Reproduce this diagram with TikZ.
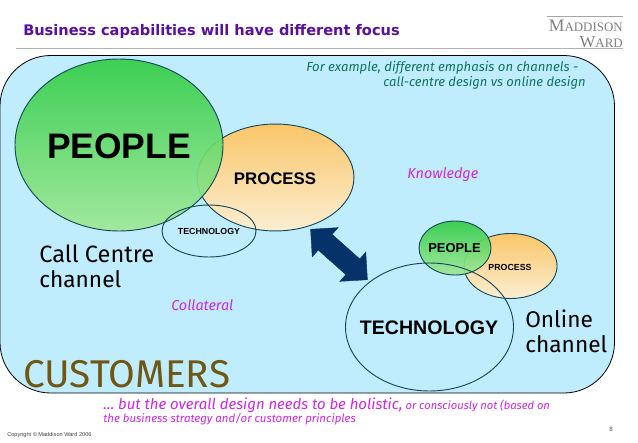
\documentclass[tikz,border=0pt]{standalone}
\usepackage{fontspec}
\setmainfont{Fira Sans}
\newfontfamily\titlefont{DejaVu Sans}
\newfontfamily\arialfont{Liberation Sans}
\newfontfamily\logofont{Liberation Serif}
\usetikzlibrary{shapes.geometric,shapes.arrows}
\definecolor{cpanel}{RGB}{192,237,253}
\definecolor{cedge}{RGB}{22,72,92}
\definecolor{ctitle}{RGB}{90,15,160}
\definecolor{cnote}{RGB}{15,115,95}
\definecolor{cpink}{RGB}{205,40,225}
\definecolor{cbrown}{RGB}{112,88,20}
\definecolor{cnavy}{RGB}{5,50,105}
\definecolor{cgreentop}{RGB}{50,205,70}
\definecolor{cgreenlow}{RGB}{160,232,150}
\definecolor{corangetop}{RGB}{250,198,105}
\definecolor{corangelow}{RGB}{251,238,210}
\tikzset{
  pane/.style={x=0.75pt,y=-0.75pt},
  blob/.style={ellipse,inner sep=0pt,draw=cedge,line width=0.7pt},
  peopleblob/.style={blob,top color=cgreentop,bottom color=cgreenlow,fill opacity=0.92},
  processblob/.style={blob,top color=corangetop,bottom color=corangelow},
  capname/.style={text=black},
  sidetext/.style={anchor=base west,inner sep=0pt,font=\fontsize{17}{19}\selectfont},
  pinktext/.style={anchor=base west,inner sep=0pt,text=cpink,font=\fontsize{10.8}{12}\selectfont\itshape},
  flatline/.style={anchor=base west,inner sep=0pt}
}
\begin{document}
\begin{tikzpicture}[pane]
  \useasboundingbox (0,0) rectangle (638,442);
  \fill[white] (0,0) rectangle (638,442);
  \node[flatline,text=ctitle,font=\titlefont\fontsize{10.93}{13}\selectfont\bfseries] (title) at (23,36) {Business capabilities will have different focus};
  \draw[black!30,line width=1.1pt] (16,48.5) coordinate (rulea) -- (623,48.5) coordinate (ruleb);
  % logo
  \draw[black!35,line width=0.5pt] (547,16) coordinate (logoa) -- (623,16) coordinate (logob);
  \node[anchor=base east,inner sep=0pt,text=black!50,font=\logofont\fontsize{13.2}{13}\selectfont] (logotop) at (623,32) {M{\fontsize{9.7}{10}\selectfont ADDISON}};
  \node[anchor=base east,inner sep=0pt,text=black!50,font=\logofont\fontsize{12.6}{13}\selectfont] (logolow) at (623,47.5) {W{\fontsize{9.7}{10}\selectfont ARD}};
  % panel
  \draw[fill=cpanel,draw=black,line width=0.6pt,rounded corners=38pt] (0,55.5) rectangle (614.5,393);
  % call centre
  \node[processblob,minimum width=117.7pt,minimum height=80.2pt] (procA) at (275.5,177.5) {};
  \node[peopleblob,minimum width=156pt,minimum height=129pt] (peopA) at (119,145) {};
  \node[blob,minimum width=70.5pt,minimum height=39pt] (techA) at (209,231) {};
  \node[capname,font=\arialfont\bfseries\fontsize{26.6}{28}\selectfont] (peopAt) at (119,146) {PEOPLE};
  \node[capname,font=\arialfont\bfseries\fontsize{12.6}{14}\selectfont] (procAt) at (275,179) {PROCESS};
  \node[capname,font=\arialfont\bfseries\fontsize{6.6}{8}\selectfont] (techAt) at (209,231.5) {TECHNOLOGY};
  \node[sidetext,font=\fontsize{17.7}{19}\selectfont] (callA) at (39,262) {Call Centre};
  \node[sidetext] (callB) at (39,287) {channel};
  % online
  \node[processblob,minimum width=69.8pt,minimum height=48.8pt] (procB) at (510.5,266) {};
  \node[peopleblob,minimum width=54pt,minimum height=40.5pt] (peopB) at (455,248) {};
  \node[blob,minimum width=126pt,minimum height=96pt] (techB) at (429.5,327) {};
  \node[capname,font=\arialfont\bfseries\fontsize{9.7}{11}\selectfont] (peopBt) at (454.5,248) {PEOPLE};
  \node[capname,font=\arialfont\bfseries\fontsize{6.6}{8}\selectfont] (procBt) at (510,267) {PROCESS};
  \node[capname,font=\arialfont\bfseries\fontsize{14.7}{16}\selectfont] (techBt) at (429,328) {TECHNOLOGY};
  \node[sidetext] (onlineA) at (525,327) {Online};
  \node[sidetext] (onlineB) at (525,352) {channel};
  % link
  \node[double arrow,fill=cnavy,draw=cnavy,line width=0.3pt,rotate=-41.6,minimum height=57pt,inner xsep=0pt,inner ysep=7.7pt,double arrow head extend=6.8pt] (link) at (339,254.5) {};
  % labels
  \node[pinktext] (knowA) at (407,178) {Knowledge};
  \node[pinktext] (collA) at (171,310) {Collateral};
  \node[flatline,text=cnote,font=\fontsize{9.85}{11}\selectfont\itshape] (noteA) at (306,72) {For example, different emphasis on channels -};
  \node[flatline,text=cnote,font=\fontsize{9.75}{11}\selectfont\itshape] (noteB) at (383,87) {call-centre design vs online design};
  \node[flatline,text=cbrown,font=\fontsize{29}{32}\selectfont] (cust) at (23,387.5) {CUSTOMERS};
  \node[flatline,text=cpink,font=\fontsize{8.4}{10}\selectfont\itshape] (holist) at (103,409) {{\fontsize{11.2}{12}\selectfont \dots\ but the overall design needs to be holistic,} or consciously not (based on};
  \node[flatline,text=cpink,font=\fontsize{8.6}{10}\selectfont\itshape] (holistb) at (103,422) {the business strategy and/or customer principles};
  \node[flatline,text=black!75,font=\arialfont\fontsize{4.2}{6}\selectfont] (copy) at (7,436) {Copyright \textcopyright{} Maddison Ward 2006};
  \node[anchor=base,inner sep=0pt,text=black!70,font=\arialfont\fontsize{4.6}{6}\selectfont] (pageno) at (611,431) {8};
\end{tikzpicture}
\end{document}
